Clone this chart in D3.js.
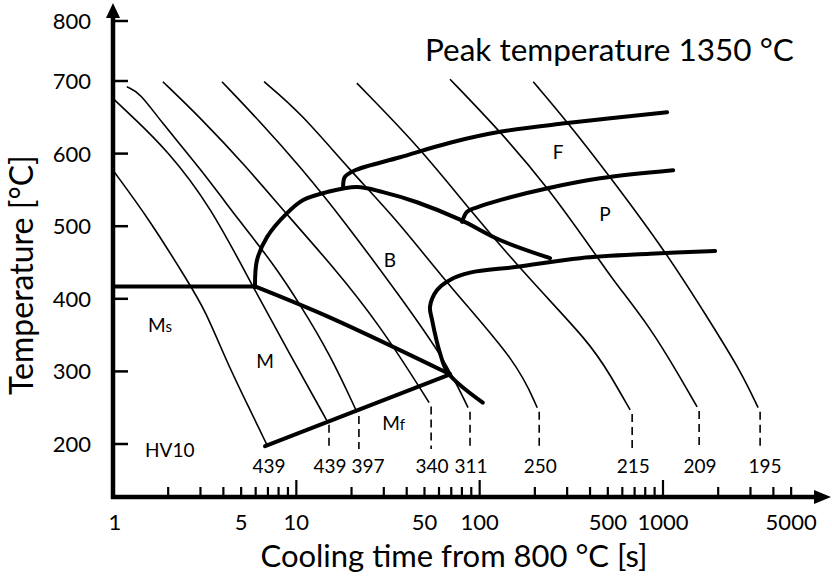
<!DOCTYPE html>
<html><head><meta charset="utf-8">
<script src="https://cdn.jsdelivr.net/npm/d3@7"></script>
<style>
body{margin:0;background:#fff}
svg{display:block}
text{font-family:Lato,"Open Sans",sans-serif;fill:#000}
</style>
</head><body>
<svg id="c" width="832" height="583"></svg>
<script>
// ---------- data (time in s, temperature in °C) ----------
const xTickValues = [1,2,3,4,5,6,7,8,9,10,20,30,40,50,60,70,80,90,100,200,300,400,500,600,700,800,900,1000,2000,3000,4000,5000];
const xMajorTicks = [1,10,100,1000];
const xTickLabels = [1,5,10,50,100,500,1000,5000];
const yTickValues = [200,300,400,500,600,700,800];
const hardness = [439,439,397,340,311,250,215,209,195];

const cool1 = [[1.0,577],[1.59,508],[2.53,426],[3.18,385],[4.19,312],[5.59,247],[7.0,196]];
const cool2 = [[1.0,676],[1.286,650],[1.97,605],[3.38,529],[5.81,416],[9.24,323],[14.7,232]];
const cool3 = [[1.19,692],[1.40,684],[1.80,646],[2.98,580],[4.93,506],[7.46,449],[10.5,392],[15.3,323],[21.4,244]];
const cool4 = [[1.87,699],[2.98,650],[5.25,584],[9.24,511],[15.3,449],[28.6,364],[53.0,257]];
const cool5 = [[3.93,699],[6.34,644],[10.5,582],[18.0,509],[36.8,403],[64.7,316],[86.4,250]];
const cool6 = [[6.67,699],[10.5,657],[19.6,577],[35.4,509],[68.9,416],[160,313],[206,250]];
const cool7 = [[21.4,697],[47.3,608],[88.6,522],[188,426],[400,339],[515,295],[662,247]];
const cool8 = [[68.9,703],[129,631],[233,555],[437,458],[534,426],[851,361],[1240,292],[1535,251]];
const cool9 = [[196,699],[300,644],[515,568],[1053,462],[1740,375],[2634,302],[3302,250]];
const coolingCurves = [cool1,cool2,cool3,cool4,cool5,cool6,cool7,cool8,cool9];

const msLine = [[1.0,417],[5.95,417]];
const msDiagonal = [[5.95,417],[15.3,374],[68.9,296]];
const mfLine = [[6.75,197],[68.9,296]];
const bainiteStart = [[5.95,416],[6.10,453],[6.92,485],[8.90,518],[10.9,536],[14.7,547],[21.4,554],[29.7,547],[45.5,533],[78.2,509],[129,481],[242,456]];
const ferriteStart = [[18.0,554],[18.4,568],[20.9,577],[36.8,595],[68.9,615],[129,630],[300,642],[1053,657]];
const pearliteStart = [[80.2,506],[85.4,520],[96.8,526],[129,536],[242,553],[454,566],[1136,577]];
const transformEnd = [[104,257],[67.2,298],[60.8,325],[55.0,371],[53.6,389],[58.6,412],[68.9,426],[88.6,436],[160,444],[353,456],[851,462],[1924,466]];

const regionLabels = [["F",268,593],["P",483,507],["B",32.4,444],["M",6.75,305]];
const startLabels = [["M","s",1.55,354],["M","f",29.4,219],["HV10","",1.495,182]];

// ---------- scales ----------
const svg = d3.select("#c");
const x = d3.scaleLog().domain([1,1000]).range([113,663]);
const y = d3.scaleLinear().domain([200,700,800]).range([444,81,21]);
const axisY = 497;
const smooth = d3.line().x(d=>x(d[0])).y(d=>y(d[1])).curve(d3.curveBasis);
const line = d3.line().x(d=>x(d[0])).y(d=>y(d[1])).curve(d3.curveCatmullRom.alpha(0.5));

// ---------- cooling curves ----------
svg.append("g").selectAll("path").data(coolingCurves).join("path")
  .attr("d",smooth).attr("fill","none").attr("stroke","#000").attr("stroke-width",1.6);

// dashed drops + hardness labels
coolingCurves.forEach((c,i)=>{
  const e = c[c.length-1];
  const dx = x(e[0]) + (i===0?0:2);
  if(i>0){
    svg.append("line").attr("x1",dx).attr("x2",dx)
      .attr("y1",y(e[1])+4).attr("y2",449)
      .attr("stroke","#000").attr("stroke-width",1.6).attr("stroke-dasharray","8,5");
  }
  svg.append("text").attr("x",dx + (i===2?9:(i===8?5:1))).attr("y",473)
    .attr("text-anchor","middle").attr("font-size",19).text(hardness[i]);
});

// ---------- phase boundaries ----------
const phase = [msLine,msDiagonal,mfLine,bainiteStart,ferriteStart,pearliteStart,transformEnd];
svg.append("g").selectAll("path").data(phase).join("path")
  .attr("d",line).attr("fill","none").attr("stroke","#000").attr("stroke-width",4)
  .attr("stroke-linecap","round").attr("stroke-linejoin","round");

// ---------- axes ----------
svg.append("line").attr("x1",113).attr("x2",113).attr("y1",axisY+2).attr("y2",14)
  .attr("stroke","#000").attr("stroke-width",4.5);
svg.append("path").attr("d","M113,3 L106,18 L120,18 Z").attr("fill","#000");
svg.append("line").attr("x1",111).attr("x2",818).attr("y1",axisY).attr("y2",axisY)
  .attr("stroke","#000").attr("stroke-width",4.5);
svg.append("path").attr("d",`M831,${axisY} L814,${axisY-7} L814,${axisY+7} Z`).attr("fill","#000");

// y ticks
svg.append("g").selectAll("line").data(yTickValues).join("line")
  .attr("x1",113).attr("x2",128).attr("y1",d=>y(d)).attr("y2",d=>y(d))
  .attr("stroke","#000").attr("stroke-width",2.5);
svg.append("g").selectAll("text").data(yTickValues).join("text")
  .attr("x",91).attr("y",d=>y(d)+8).attr("text-anchor","end").attr("font-size",22).text(d=>d);

// x ticks
svg.append("g").selectAll("line").data(xTickValues.filter(d=>d>1)).join("line")
  .attr("x1",d=>x(d)).attr("x2",d=>x(d)).attr("y1",axisY)
  .attr("y2",d=>axisY - (xMajorTicks.includes(d)?17:10))
  .attr("stroke","#000").attr("stroke-width",2.2);
svg.append("g").selectAll("text").data(xTickLabels).join("text")
  .attr("x",d=>x(d)+(d===1?2:0)).attr("y",530).attr("text-anchor","middle").attr("font-size",22).text(d=>d);

// titles
svg.append("text").attr("x",454).attr("y",567).attr("text-anchor","middle").attr("font-size",31)
  .text("Cooling time from 800 °C [s]");
svg.append("text").attr("transform","translate(33,275) rotate(-90)").attr("text-anchor","middle")
  .attr("font-size",32).text("Temperature [°C]");
svg.append("text").attr("x",425).attr("y",61).attr("font-size",31.5).text("Peak temperature 1350 °C");

// region labels
svg.append("g").selectAll("text").data(regionLabels).join("text")
  .attr("x",d=>x(d[1])).attr("y",d=>y(d[2])).attr("text-anchor","middle").attr("font-size",19).text(d=>d[0]);
startLabels.forEach(d=>{
  const t = svg.append("text").attr("x",x(d[2])).attr("y",y(d[3])).attr("font-size",19);
  t.append("tspan").text(d[0]);
  if(d[1]) t.append("tspan").attr("font-size",15).text(d[1]);
});
</script>
</body></html>
